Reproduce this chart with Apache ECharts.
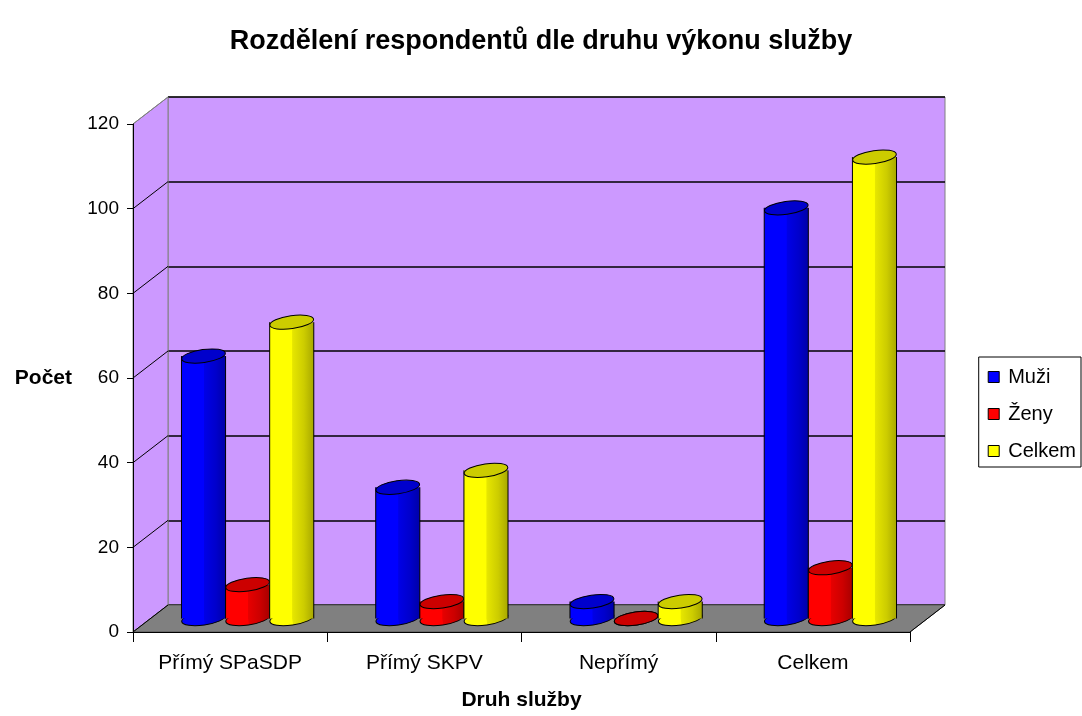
<!DOCTYPE html>
<html>
<head>
<meta charset="utf-8">
<script src="https://cdn.jsdelivr.net/npm/echarts@6/dist/echarts.min.js"></script>
<style>
  html, body { margin: 0; padding: 0; background: #fff; }
  #main { width: 1082px; height: 716px; }
</style>
</head>
<body>
<div id="main"></div>
<script>
  // data
  const categories = ['Přímý SPaSDP', 'Přímý SKPV', 'Nepřímý', 'Celkem'];
  const seriesNames = ['Muži', 'Ženy', 'Celkem'];
  const muzi = [62, 31, 4, 97];
  const zeny = [8, 4, 0, 12];
  const celkem = [70, 35, 4, 109];
  const yMax = 120;
  const yStep = 20;

  const font = 'Liberation Sans, Arial, sans-serif';
  // front plane and depth offset of the fake 3D box
  const F = {x0: 133, x1: 910, y0: 632, y1: 124};
  const D = {dx: 35, dy: -27};

  const palette = [
    {stops: ['#0000FF', '#0000FF', '#0000E6', '#0000CC', '#0000A8'], top: '#0000CC'},
    {stops: ['#FF0000', '#FF0000', '#E60000', '#CC0000', '#A80000'], top: '#CC0000'},
    {stops: ['#FFFF00', '#FFFF00', '#E6E600', '#CCCC00', '#A8A800'], top: '#CCCC00'}
  ];

  function cylinder(idx) {
    const c = palette[idx];
    return function (params, api) {
      const cat = api.value(0);
      const val = api.value(1);
      const band = api.size([1, 0])[0];
      const w = band * 0.227;
      const base = api.coord([cat, 0]);
      const top = api.coord([cat, val]);
      const cx = base[0] + (idx - 1) * w;
      const rx = w / 2, ry = 6.5;
      const grad = new echarts.graphic.LinearGradient(0, 0, 1, 0, [
        {offset: 0, color: c.stops[0]},
        {offset: 0.5, color: c.stops[1]},
        {offset: 0.52, color: c.stops[2]},
        {offset: 0.78, color: c.stops[3]},
        {offset: 1, color: c.stops[4]}
      ]);
      const children = [
        {type: 'ellipse', x: cx, y: base[1], rotation: 0.14,
          shape: {cx: 0, cy: 0, rx: rx, ry: ry}, style: {fill: grad, stroke: '#000', lineWidth: 1}}
      ];
      if (base[1] - top[1] > 0.5) {
        children.push(
          {type: 'rect', shape: {x: cx - rx, y: top[1], width: w, height: base[1] - top[1]}, style: {fill: grad}},
          {type: 'line', shape: {x1: cx - rx, y1: top[1], x2: cx - rx, y2: base[1]}, style: {stroke: '#000', lineWidth: 1}},
          {type: 'line', shape: {x1: cx + rx, y1: top[1], x2: cx + rx, y2: base[1]}, style: {stroke: '#000', lineWidth: 1}}
        );
      }
      children.push({type: 'ellipse', x: cx, y: top[1], rotation: 0.14,
        shape: {cx: 0, cy: 0, rx: rx, ry: ry}, style: {fill: c.top, stroke: '#000', lineWidth: 1}});
      return {type: 'group', children: children};
    };
  }

  // decoration: floor, left wall, diagonal tick connectors
  const deco = [];
  deco.push({type: 'polygon', z: -1, shape: {points: [[F.x0, F.y0], [F.x0 + D.dx, F.y0 + D.dy], [F.x0 + D.dx, F.y1 + D.dy], [F.x0, F.y1]]},
    style: {fill: '#CC99FF', stroke: '#808080', lineWidth: 1}});
  deco.push({type: 'polygon', z: -1, shape: {points: [[F.x0, F.y0], [F.x1, F.y0], [F.x1 + D.dx, F.y0 + D.dy], [F.x0 + D.dx, F.y0 + D.dy]]},
    style: {fill: '#808080', stroke: '#555', lineWidth: 1}});
  deco.push({type: 'line', z: -1, shape: {x1: F.x1, y1: F.y0, x2: F.x1 + D.dx, y2: F.y0 + D.dy}, style: {stroke: '#000', lineWidth: 1}});
  for (let v = 0; v <= yMax; v += yStep) {
    const yf = F.y0 - (F.y0 - F.y1) * v / yMax;
    deco.push({type: 'line', z: -1, shape: {x1: F.x0, y1: yf, x2: F.x0 + D.dx, y2: yf + D.dy},
      style: {stroke: v === yMax ? '#808080' : '#000', lineWidth: 1}});
  }

  const chart = echarts.init(document.getElementById('main'));
  chart.setOption({
    backgroundColor: '#fff',
    animation: false,
    textStyle: {fontFamily: font},
    title: {
      text: 'Rozdělení respondentů dle druhu výkonu služby',
      left: 'center', top: 23,
      textStyle: {fontFamily: font, fontSize: 27, fontWeight: 'bold', color: '#000'}
    },
    legend: {
      orient: 'vertical', right: 1, top: 357,
      backgroundColor: '#fff', borderColor: '#000', borderWidth: 1, borderRadius: 0,
      padding: [8, 5, 4, 9], itemGap: 13, itemWidth: 11, itemHeight: 11,
      textStyle: {fontFamily: font, fontSize: 20, lineHeight: 24, color: '#000', padding: [0, 0, 0, 4]},
      data: seriesNames.map((n, i) => ({name: n, icon: 'rect',
        itemStyle: {color: palette[i].stops[0], borderColor: '#000', borderWidth: 1}}))
    },
    graphic: deco,
    grid: [
      {left: F.x0, right: 1082 - F.x1, top: F.y1, bottom: 716 - F.y0},
      {left: F.x0 + D.dx, right: 1082 - F.x1 - D.dx, top: F.y1 + D.dy, bottom: 716 - F.y0 - D.dy,
        show: true, backgroundColor: '#CC99FF', borderColor: '#808080', borderWidth: 1, z: -2},
      {left: F.x0 + D.dx / 2, right: 1082 - F.x1 - D.dx / 2, top: F.y1 + D.dy / 2, bottom: 716 - F.y0 - D.dy / 2}
    ],
    xAxis: [
      {type: 'category', gridIndex: 0, data: categories,
        name: 'Druh služby', nameLocation: 'middle', nameGap: 58,
        nameTextStyle: {fontFamily: font, fontSize: 21, fontWeight: 'bold', color: '#000'},
        axisLine: {lineStyle: {color: '#000', width: 1}},
        axisTick: {show: true, length: 10, lineStyle: {color: '#000'}},
        axisLabel: {fontFamily: font, fontSize: 21, color: '#000', margin: 21}},
      {type: 'category', gridIndex: 1, data: categories, show: false, z: -2},
      {type: 'category', gridIndex: 2, data: categories, show: false}
    ],
    yAxis: [
      {type: 'value', gridIndex: 0, min: 0, max: yMax, interval: yStep,
        name: 'Počet', nameLocation: 'middle', nameGap: 61, nameRotate: 0,
        nameTextStyle: {fontFamily: font, fontSize: 21, fontWeight: 'bold', color: '#000'},
        axisLine: {show: true, lineStyle: {color: '#000', width: 1}},
        axisTick: {show: true, length: 6, lineStyle: {color: '#000'}},
        axisLabel: {fontFamily: font, fontSize: 19, color: '#000', margin: 14},
        splitLine: {show: false}},
      {type: 'value', gridIndex: 1, min: 0, max: yMax, interval: yStep, z: -2,
        axisLine: {show: false}, axisTick: {show: false}, axisLabel: {show: false},
        splitLine: {show: true, lineStyle: {color: '#000', width: 1.5}}},
      {type: 'value', gridIndex: 2, min: 0, max: yMax, interval: yStep, show: false,
        splitLine: {show: false}}
    ],
    series: [muzi, zeny, celkem].map((arr, i) => ({
      name: seriesNames[i],
      type: 'custom',
      xAxisIndex: 2, yAxisIndex: 2,
      z: 5,
      itemStyle: {color: palette[i].stops[0]},
      renderItem: cylinder(i),
      encode: {x: 0, y: 1},
      data: arr.map((v, k) => [k, v])
    }))
  });
</script>
</body>
</html>
